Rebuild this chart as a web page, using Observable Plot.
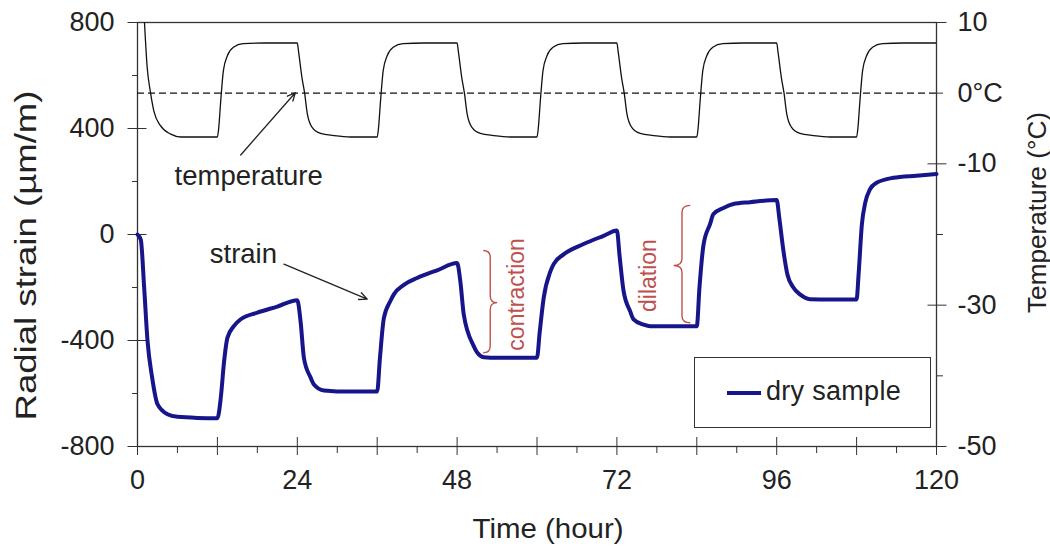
<!DOCTYPE html>
<html>
<head>
<meta charset="utf-8">
<script src="https://cdn.jsdelivr.net/npm/d3@7"></script>
<script src="https://cdn.jsdelivr.net/npm/@observablehq/plot@0.6"></script>
<style>
  html, body { margin: 0; padding: 0; background: #fff; }
  #wrap { position: relative; width: 1050px; height: 546px; font-family: "Liberation Sans", Arial, sans-serif; }
  #legend { position: absolute; left: 694px; top: 357px; width: 237px; height: 71px; border: 1.5px solid #333; box-sizing: border-box; background: #fff; }
  #legend .sw { position: absolute; left: 32px; top: 33px; width: 34px; height: 4px; background: #16168a; }
  #legend .lb { position: absolute; left: 71px; top: 17px; font-size: 27px; line-height: 32px; color: #222; letter-spacing: 0.3px; }
</style>
</head>
<body>
<div id="wrap"></div>
<script>
// ---- Data ----
const strainHours = [0, 0.5, 1, 1.5, 2.2, 3, 4.5, 6, 9, 12,
  12.5, 13, 13.5, 14.5, 15.5, 18, 21, 24,
  24.5, 25, 26, 26.5, 28, 30, 36,
  36.4, 37, 38, 38.5, 40, 42, 45, 48,
  48.5, 49, 50.5, 51, 52, 54, 60,
  60.4, 61, 62, 62.5, 64, 67, 70, 72,
  72.4, 73, 74, 74.5, 76, 77, 84,
  84.4, 85, 86, 86.5, 88, 89.5, 92, 96,
  96.4, 97, 97.6, 98.5, 99.5, 101, 104, 108,
  108.3, 108.8, 109.3, 110, 111, 113.5, 117, 120];
const strainValues = [0, -20, -200, -400, -540, -640, -678, -688, -692, -693,
  -618, -480, -390, -345, -320, -295, -272, -248,
  -330, -467, -540, -566, -589, -592, -592,
  -470, -316, -250, -226, -190, -164, -135, -108,
  -180, -302, -421, -445, -463, -465, -465,
  -370, -240, -140, -112, -75, -36, -5, 15,
  -80, -213, -290, -320, -340, -346, -346,
  -200, -40, 40, 77, 100, 115, 122, 130,
  60, -60, -150, -200, -226, -244, -245, -245,
  -150, 40, 120, 170, 195, 214, 222, 228];

const tempHours = [1.05, 1.45, 1.95, 2.45, 3.45, 5, 6.5, 12,
  12.2, 12.5, 12.9, 13.5, 14.4, 15.9, 19, 24,
  24.2, 24.7, 25.1, 25.5, 26.2, 27.5, 29.5, 32, 36,
  36.2, 36.5, 36.9, 37.5, 38.4, 39.9, 43, 48,
  48.2, 48.7, 49.1, 49.5, 50.2, 51.5, 53.5, 56, 60,
  60.2, 60.5, 60.9, 61.5, 62.4, 63.9, 67, 72,
  72.2, 72.7, 73.1, 73.5, 74.2, 75.5, 77.5, 80, 84,
  84.2, 84.5, 84.9, 85.5, 86.4, 87.9, 91, 96,
  96.2, 96.7, 97.1, 97.5, 98.2, 99.5, 101.5, 104, 108,
  108.2, 108.5, 108.9, 109.5, 110.4, 111.9, 115, 120];
const tempCelsius = [10, 3.7, 0.1, -2.5, -4.6, -5.8, -6.2, -6.2,
  -4.9, -1.1, 3.2, 5.3, 6.5, 7.0, 7.1, 7.1,
  5.8, 2.2, 0, -2.9, -4.8, -5.7, -6.0, -6.2, -6.2,
  -4.9, -1.1, 3.2, 5.3, 6.5, 7.0, 7.1, 7.1,
  5.8, 2.2, 0, -2.9, -4.8, -5.7, -6.0, -6.2, -6.2,
  -4.9, -1.1, 3.2, 5.3, 6.5, 7.0, 7.1, 7.1,
  5.8, 2.2, 0, -2.9, -4.8, -5.7, -6.0, -6.2, -6.2,
  -4.9, -1.1, 3.2, 5.3, 6.5, 7.0, 7.1, 7.1,
  5.8, 2.2, 0, -2.9, -4.8, -5.7, -6.0, -6.2, -6.2,
  -4.9, -1.1, 3.2, 5.3, 6.5, 7.0, 7.1, 7.1];

const xLabelTicks = [0, 24, 48, 72, 96, 120];
const xMajorTicks = [0, 12, 24, 36, 48, 60, 72, 84, 96, 108, 120];
const xMinorTicks = [6, 18, 30, 42, 54, 66, 78, 90, 102, 114];
const leftTicks = [-800, -400, 0, 400, 800];
const leftMinor = [-600, -200, 200, 600];
const rightMajor = [10, -10, -30, -50];
const rightMinor = [0, -20, -40];
const rightLabels = [10, 0, -10, -30, -50];
const freezingPoint = [0];

const yTitle = "Radial strain (µm/m)";
const y2Title = "Temperature (°C)";
const xTitle = "Time (hour)";

const blackNotes = [
  {label: "temperature", h: 16.7, s: 221},
  {label: "strain", h: 15.9, s: -74}
];
const redNotes = [
  {label: "contraction", h: 57.0, s: -226},
  {label: "dilation", h: 76.8, s: -155}
];
const arrowNotes = [
  {h1: 15.5, s1: 300, h2: 23.7, s2: 535},
  {h1: 22.0, s1: -112, h2: 34.5, s2: -244}
];
const braceNotes = [
  {ends: 52.0, tip: 54.1, top: -62, bottom: -448, mid: -259},
  {ends: 83.1, tip: 80.6, top: 108, bottom: -335, mid: -119}
];

// temperature (°C) -> strain axis units (right axis 10..-50 maps to 800..-800)
const toY = t => (t + 20) * 800 / 30;
const fromY = v => Math.round(v * 30 / 800 - 20);

const strainData = strainHours.map((h, i) => ({h, v: strainValues[i]}));
const tempData = tempHours.map((h, i) => ({h, v: toY(tempCelsius[i])}));

function braceMark(b) {
  return (index, scales) => {
    const x = scales.x, y = scales.y;
    const xe = x(b.ends), xt = x(b.tip), y0 = y(b.top), y1 = y(b.bottom), ym = y(b.mid);
    const xb = (xe + xt) / 2, r = 7;
    const d = `M${xe},${y0} Q${xb},${y0} ${xb},${y0 + r} L${xb},${ym - r} Q${xb},${ym} ${xt},${ym} ` +
              `Q${xb},${ym} ${xb},${ym + r} L${xb},${y1 - r} Q${xb},${y1} ${xe},${y1}`;
    const p = document.createElementNS("http://www.w3.org/2000/svg", "path");
    p.setAttribute("d", d);
    p.setAttribute("fill", "none");
    p.setAttribute("stroke", "#c0504d");
    p.setAttribute("stroke-width", "1.4");
    return p;
  };
}

const fmt = d => String(d);
const TICK_FS = 27;

const chart = Plot.plot({
  width: 1050, height: 546,
  marginLeft: 137, marginRight: 114, marginTop: 22, marginBottom: 100,
  x: {domain: [0, 120]},
  y: {domain: [-800, 800]},
  style: {fontFamily: '"Liberation Sans", Arial, sans-serif', color: "#222", background: "white", overflow: "visible"},
  marks: [
    // left axis
    Plot.axisY(leftTicks, {anchor: "left", tickSize: 0, tickPadding: 23, fontSize: TICK_FS, tickFormat: fmt, label: null}),
    Plot.axisY(leftTicks, {anchor: "left", tickSize: 19, dx: 9.5, fill: "none", tickFormat: () => "", label: null, stroke: "#333"}),
    Plot.axisY(leftMinor, {anchor: "left", tickSize: 5, fill: "none", tickFormat: () => "", label: null, stroke: "#333"}),
    // right axis
    Plot.axisY(rightLabels.map(toY), {anchor: "right", tickSize: 0, tickPadding: 21, fontSize: TICK_FS,
      tickFormat: v => fromY(v) === 0 ? "0°C" : String(fromY(v)), label: null}),
    Plot.axisY(rightMajor.map(toY), {anchor: "right", tickSize: 19, dx: -9.5, fill: "none", tickFormat: () => "", label: null, stroke: "#333"}),
    Plot.axisY(rightMinor.map(toY), {anchor: "right", tickSize: 6, fill: "none", tickFormat: () => "", label: null, stroke: "#333"}),
    // bottom axis
    Plot.axisX(xLabelTicks, {anchor: "bottom", tickSize: 0, tickPadding: 23, fontSize: TICK_FS, tickFormat: fmt, label: null}),
    Plot.axisX(xMajorTicks, {anchor: "bottom", tickSize: 18, dy: -9, fill: "none", tickFormat: () => "", label: null, stroke: "#333"}),
    Plot.axisX(xMinorTicks, {anchor: "bottom", tickSize: 7, fill: "none", tickFormat: () => "", label: null, stroke: "#333"}),
    Plot.frame({stroke: "#333", strokeWidth: 1.3}),
    // axis titles
    Plot.text([yTitle], {frameAnchor: "left", textAnchor: "middle", lineAnchor: "middle", rotate: -90, dx: -111, dy: 21, fontSize: 30, fill: "#222"}),
    Plot.text([y2Title], {frameAnchor: "right", textAnchor: "middle", lineAnchor: "middle", rotate: -90, dx: 101, dy: -22, fontSize: 26, fill: "#222"}),
    Plot.text([xTitle], {frameAnchor: "bottom", textAnchor: "middle", lineAnchor: "middle", dx: 11, dy: 83, fontSize: 28, fill: "#222"}),
    // 0 °C reference
    Plot.ruleY(freezingPoint.map(toY), {stroke: "#111", strokeWidth: 1.3, strokeDasharray: "7,4"}),
    // temperature
    Plot.line(tempData, {x: "h", y: "v", stroke: "#111", strokeWidth: 1.3, curve: "monotone-x", clip: true}),
    // strain
    Plot.line(strainData, {x: "h", y: "v", stroke: "#16168a", strokeWidth: 4, curve: "monotone-x", strokeLinejoin: "round"}),
    // annotations
    Plot.arrow(arrowNotes, {x1: "h1", y1: "s1", x2: "h2", y2: "s2", stroke: "#222", strokeWidth: 1.3, headLength: 10, headAngle: 50}),
    Plot.text(blackNotes, {x: "h", y: "s", text: "label", fill: "#222", fontSize: 27.5, textAnchor: "middle", lineAnchor: "middle"}),
    Plot.text(redNotes, {x: "h", y: "s", text: "label", fill: "#c0504d", rotate: -90, fontSize: 23, textAnchor: "middle", lineAnchor: "middle"}),
    ...braceNotes.map(braceMark)
  ]
});

// stretch the titles to the lengths they have in the reference
const titleLengths = new Map([[yTitle, 330], [xTitle, 151], [y2Title, 201]]);
chart.querySelectorAll("text").forEach(t => {
  const L = titleLengths.get(t.textContent);
  if (L) { t.setAttribute("textLength", L); t.setAttribute("lengthAdjust", "spacingAndGlyphs"); }
});

const wrap = document.getElementById("wrap");
wrap.appendChild(chart);
const legend = document.createElement("div");
legend.id = "legend";
legend.innerHTML = '<div class="sw"></div><div class="lb">dry sample</div>';
wrap.appendChild(legend);
</script>
</body>
</html>
